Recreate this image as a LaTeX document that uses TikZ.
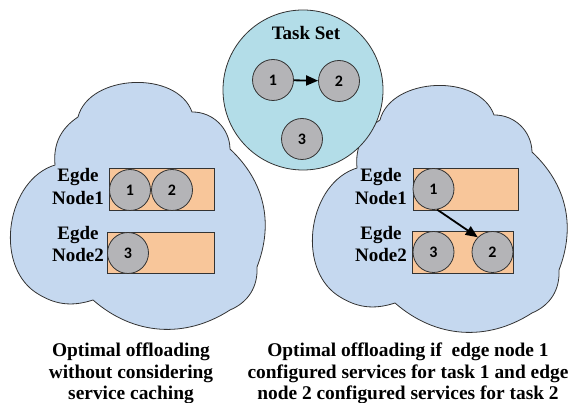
\documentclass[tikz,border=0pt]{standalone}
\usepackage{fontspec}
\setmainfont{Liberation Serif}
\newfontfamily\numfont{Carlito}
\usetikzlibrary{arrows.meta}
\definecolor{cloudblue}{HTML}{C5D8EF}
\definecolor{setblue}{HTML}{B3DDE8}
\definecolor{peach}{HTML}{F8C69A}
\definecolor{taskgray}{HTML}{B4B4B7}
\definecolor{edgeline}{HTML}{333333}
\begin{document}
\begin{tikzpicture}[x=1pt,y=-1pt,
  cloudfill/.style={draw=edgeline, line width=0.8pt, fill=cloudblue},
  edgecloud/.pic={
    \path[cloudfill] (55,165) to[bend left=31] (78,117) to[bend left=73] (192,112)
      to[bend left=45] (230,149) to[bend left=34] (257,267) to[bend left=35] (230,310)
      to[bend left=37] (93,300) to[bend left=26] (35,292) to[bend left=64] (55,165) -- cycle;
  },
  taskset/.style={circle, draw=edgeline, line width=0.8pt, fill=setblue, minimum size=160pt, inner sep=0pt},
  task/.style={circle, draw=edgeline, line width=0.8pt, fill=taskgray, minimum size=41pt, inner sep=0pt,
    font=\numfont\bfseries\fontsize{16}{16}\selectfont},
  servbox/.style={draw=edgeline, line width=0.8pt, fill=peach},
  lbl/.style={font=\bfseries\fontsize{19}{23}\selectfont, align=center, inner sep=0pt},
  caption/.style={font=\bfseries\fontsize{19.4}{21.5}\selectfont, align=center, inner sep=0pt},
  flow/.style={line width=1.8pt, -{Triangle[length=12pt,width=10pt]}}
]
\useasboundingbox (0,0) rectangle (574,403);
% clouds
\pic (lcloud) at (0,0) {edgecloud};
\pic (rcloud) at (302,3) {edgecloud};
% task set
\node[taskset] (set) at (303,90) {};
\node[font=\bfseries\fontsize{19}{19}\selectfont, anchor=base] (settitle) at (306,40) {Task Set};
\node[task] (s1) at (273,80) {1};
\node[task] (s2) at (339,81) {2};
\node[task] (s3) at (302,139) {3};
\draw[flow] (s1) -- (s2);
% left cloud
\draw[servbox] (109,168) rectangle (214,210) coordinate (lb1);
\draw[servbox] (107,232) rectangle (214,273) coordinate (lb2);
\node[task] (l1) at (130,190) {1};
\node[task] (l2) at (172,190) {2};
\node[task] (l3) at (128,253) {3};
\node[lbl, anchor=base] (le1a) at (78,182) {Egde};
\node[lbl, anchor=base] (le1b) at (78,205) {Node1};
\node[lbl, anchor=base] (le2a) at (78,240) {Egde};
\node[lbl, anchor=base] (le2b) at (78,262) {Node2};
% right cloud
\draw[servbox] (413,168) rectangle (518,210) coordinate (rb1);
\draw[servbox] (412,231) rectangle (513,273) coordinate (rb2);
\node[task] (r1) at (433.5,189) {1};
\node[task] (r3) at (433.5,252) {3};
\node[task] (r2) at (492.5,252) {2};
\draw[flow] (r1.-80) -- (r2.135);
\node[lbl, anchor=base] (re1a) at (381,182) {Egde};
\node[lbl, anchor=base] (re1b) at (381,205) {Node1};
\node[lbl, anchor=base] (re2a) at (381,240) {Egde};
\node[lbl, anchor=base] (re2b) at (381,262) {Node2};
% captions
\node[caption, anchor=north] (lcap) at (131,343) {Optimal offloading\\without considering\\service caching};
\node[caption, anchor=north] (rcap) at (408,343) {Optimal offloading if\ \ edge node 1\\configured services for task 1 and edge\\node 2 configured services for task 2};
\end{tikzpicture}
\end{document}
